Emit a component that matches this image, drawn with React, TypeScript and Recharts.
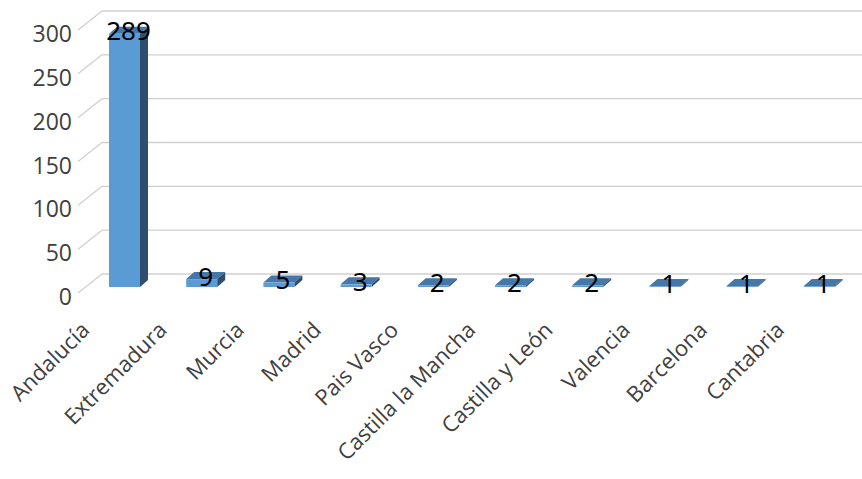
import { Bar, BarChart, CartesianGrid, LabelList, XAxis, YAxis } from "recharts";

const regions = [
  "Andalucía",
  "Extremadura",
  "Murcia",
  "Madrid",
  "Pais Vasco",
  "Castilla la Mancha",
  "Castilla y León",
  "Valencia",
  "Barcelona",
  "Cantabria",
];
const counts = [289, 9, 5, 3, 2, 2, 2, 1, 1, 1];
const yTicks = [0, 50, 100, 150, 200, 250, 300];

const data = regions.map((name, i) => ({ name, value: counts[i] }));

// depth offset of the fake 3d bars
const DX = 8;
const DY = 7;

const Bar3D = (props: any) => {
  const { x, y, width, height } = props;
  if (x == null || y == null) return null;
  return (
    <g>
      <polygon
        points={`${x},${y} ${x + DX},${y - DY} ${x + width + DX},${y - DY} ${x + width},${y}`}
        fill="#4677A8"
      />
      <polygon
        points={`${x + width},${y} ${x + width + DX},${y - DY} ${x + width + DX},${y + height - DY} ${x + width},${y + height}`}
        fill="#2F4E6E"
      />
      <rect x={x} y={y} width={width} height={height} fill="#5B9BD5" />
    </g>
  );
};

const renderValue = (props: any) => {
  const { x, y, width, value } = props;
  return (
    <text
      x={Number(x) + Number(width) / 2 + DX / 2}
      y={Number(y) - DY / 2}
      textAnchor="middle"
      dominantBaseline="central"
      fontSize={26}
      fontFamily="'Noto Sans', sans-serif"
      fill="#000"
    >
      {value}
    </text>
  );
};

// back wall lines + the diagonal on the left side wall
const gridLine = (props: any) => {
  const { x1, y1, key } = props;
  return (
    <g key={key}>
      <line x1={x1 + 16} y1={y1 - 13} x2={862} y2={y1 - 13} stroke="#D0D0D0" strokeWidth={1.3} />
      <line x1={x1 - 8} y1={y1 + 6} x2={x1 + 16} y2={y1 - 13} stroke="#D0D0D0" strokeWidth={1.3} />
    </g>
  );
};

const YTick = (props: any) => {
  const { y, payload } = props;
  return (
    <text
      x={72}
      y={y + 9}
      textAnchor="end"
      dominantBaseline="central"
      fontSize={23}
      fontFamily="'Open Sans', sans-serif"
      fill="#404040"
    >
      {payload.value}
    </text>
  );
};

const XTick = (props: any) => {
  const { x, payload } = props;
  const tx = x - 40;
  const ty = 325;
  return (
    <text
      x={tx}
      y={ty}
      transform={`rotate(-45 ${tx} ${ty})`}
      textAnchor="end"
      dominantBaseline="central"
      fontSize={22}
      fontFamily="'Open Sans', sans-serif"
      fill="#404040"
    >
      {payload.value}
    </text>
  );
};

export default function App() {
  return (
    <div style={{ position: "absolute", left: 0, top: 0, background: "#fff" }}>
      <BarChart
        width={862}
        height={479}
        data={data}
        margin={{ top: 24, right: 4, bottom: 0, left: 0 }}
        barSize={31}
      >
        <CartesianGrid vertical={false} horizontal={gridLine} />
        <XAxis
          dataKey="name"
          axisLine={false}
          tickLine={false}
          interval={0}
          height={192}
          tick={<XTick />}
        />
        <YAxis
          domain={[0, 300]}
          ticks={yTicks}
          width={86}
          axisLine={false}
          tickLine={false}
          tick={<YTick />}
        />
        <Bar dataKey="value" shape={Bar3D} isAnimationActive={false}>
          <LabelList dataKey="value" content={renderValue} />
        </Bar>
      </BarChart>
    </div>
  );
}
